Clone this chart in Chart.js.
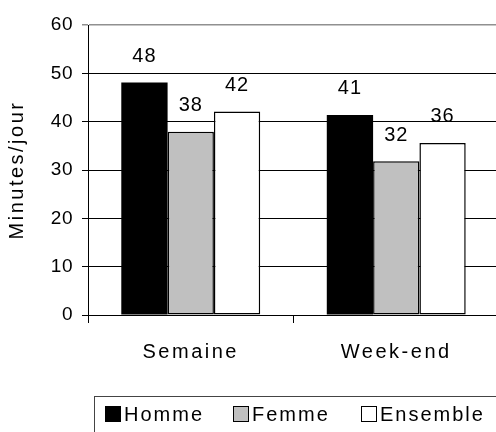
<!DOCTYPE html>
<html>
<head>
<meta charset="utf-8">
<script src="https://cdn.jsdelivr.net/npm/chart.js@4"></script>
<style>
  html, body { margin: 0; padding: 0; background: #fff; overflow: hidden; }
  #wrap { position: relative; width: 500px; height: 432px; }
  #legend {
    position: absolute; left: 94px; top: 396px; width: 410px; height: 40px;
    border: 1px solid #444; box-sizing: border-box;
    font-family: "Liberation Sans", Arial, sans-serif; font-size: 20px;
    letter-spacing: 2px; color: #000;
    display: flex; align-items: center; padding-left: 10px; padding-bottom: 4px;
  }
  #legend .item { display: flex; align-items: center; width: 128px; flex: none; }
  #legend .box { width: 16px; height: 16px; border: 1px solid #000; margin-right: 3px; box-sizing: border-box; }
</style>
</head>
<body>
<div id="wrap">
  <canvas id="chart" width="500" height="432"></canvas>
  <div id="legend"></div>
</div>
<script>
// categories and series
const categories = ["Semaine", "Week-end"];
const homme = [48.1, 41.4];
const femme = [37.9, 31.8];
const ensemble = [42.1, 35.6];
const seriesNames = ["Homme", "Femme", "Ensemble"];
const seriesColors = ["#000000", "#c0c0c0", "#ffffff"];
const yTicks = [0, 10, 20, 30, 40, 50, 60];

const FONT = "'Liberation Sans', Arial, sans-serif";

// value labels above each bar
const barLabels = {
  id: "barLabels",
  afterDatasetsDraw(chart) {
    const ctx = chart.ctx;
    ctx.save();
    ctx.font = "20px " + FONT;
    ctx.letterSpacing = "1px";
    ctx.fillStyle = "#000";
    ctx.textAlign = "center";
    ctx.textBaseline = "middle";
    chart.data.datasets.forEach((ds, i) => {
      chart.getDatasetMeta(i).data.forEach((bar, j) => {
        ctx.fillText(String(Math.round(ds.data[j])), bar.x, bar.y - 26);
      });
    });
    ctx.restore();
  }
};

// wider letter spacing for the axis texts, like the original
function spaced(fn, spacing) {
  return function (...args) {
    const ctx = this.ctx;
    ctx.save();
    ctx.letterSpacing = spacing;
    fn.apply(this, args);
    ctx.restore();
  };
}

const datasets = [homme, femme, ensemble].map((values, i) => ({
  label: seriesNames[i],
  data: values,
  backgroundColor: seriesColors[i],
  borderColor: "#000",
  borderWidth: i === 0 ? 0 : 1.5,
  borderSkipped: false
}));

new Chart(document.getElementById("chart"), {
  type: "bar",
  data: {labels: categories, datasets: datasets},
  options: {
    responsive: false,
    animation: false,
    layout: {padding: {top: 25, right: 1, bottom: 0, left: 0}},
    datasets: {bar: {barPercentage: 1, categoryPercentage: 0.676}},
    plugins: {legend: {display: false}, tooltip: {enabled: false}},
    scales: {
      x: {
        grid: {display: true, drawOnChartArea: false, offset: true, color: "#000", tickLength: 8},
        border: {color: "#000", width: 1},
        ticks: {color: "#000", font: {family: FONT, size: 20}, padding: 17},
        afterFit(scale) {
          scale.height = 117;
          if (!scale._spaced) {
            scale.drawLabels = spaced(scale.drawLabels, "2.5px");
            scale._spaced = true;
          }
        }
      },
      y: {
        min: 0, max: 60,
        afterBuildTicks(scale) { scale.ticks = yTicks.map(v => ({value: v})); },
        grid: {
          color: ctx => (ctx.tick && ctx.tick.value === 60 ? "#909090" : "#000"),
          lineWidth: ctx => (ctx.tick && ctx.tick.value === 60 ? 1.5 : 1),
          tickLength: 6
        },
        border: {color: "#000", width: 1},
        ticks: {color: "#000", font: {family: FONT, size: 19}, padding: 9},
        title: {display: true, text: "Minutes/jour", color: "#000", font: {family: FONT, size: 20}, padding: {top: 5, bottom: 0}},
        afterFit(scale) {
          scale.width = 88;
          if (!scale._spaced) {
            scale.drawTitle = spaced(scale.drawTitle, "2.5px");
            scale.drawLabels = spaced(scale.drawLabels, "0.5px");
            scale._spaced = true;
          }
        }
      }
    }
  },
  plugins: [barLabels]
});

// legend in the framed box under the chart
const legend = document.getElementById("legend");
seriesNames.forEach((name, i) => {
  const item = document.createElement("div");
  item.className = "item";
  const box = document.createElement("span");
  box.className = "box";
  box.style.background = seriesColors[i];
  const txt = document.createElement("span");
  txt.textContent = name;
  item.appendChild(box);
  item.appendChild(txt);
  legend.appendChild(item);
});
</script>
</body>
</html>
